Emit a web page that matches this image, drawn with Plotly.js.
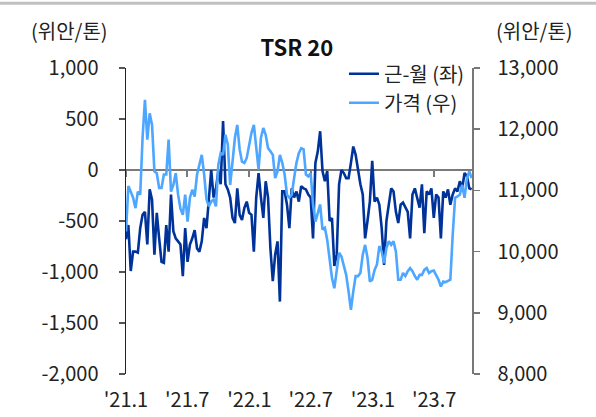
<!DOCTYPE html>
<html>
<head>
<meta charset="utf-8">
<script src="https://cdn.plot.ly/plotly-3.0.1.min.js"></script>
<style>
  html, body { margin: 0; padding: 0; background: #fff; }
  #chart { width: 596px; height: 417px; }
</style>
</head>
<body>
<div id="chart"></div>
<script>
// Weekly observations starting 2021-01-01
const startDate = '2021-01-01';

// 근-월 spread (left axis, 위안/톤)
const spread = [
  -680, -540, -990, -800, -800, -810, -570, -440, -410, -730,
  -190, -290, -830, -420, -670, -900, -910, -540, -800, -240,
  -600, -670, -700, -730, -1040, -570, -900, -730, -670, -590,
  -770, -800, -700, -470, -570, -310, 0, -270, -180, -10,
  -140, 480, -140, -190, -270, -470, -520, -180, -440, -490,
  -370, -310, -420, -440, -800, -270, -30, -270, -470, -110,
  -270, -770, -1090, -830, -700, -1290, -210, -210, -340, -570,
  -180, -270, -210, -310, -160, -180, -190, -240, -270, -670,
  70, 180, 380, -10, -110, -10, -500, -470, -940, -830,
  -140, 0, -30, -80, -80, 70, 230, 150, -10, -140,
  -240, -670, -500, -310, 90, -310, -270, -340, -570, -930,
  -500, -360, -180, -210, -410, -520, -340, -320, -360, -410,
  -670, -240, -180, -270, -370, -140, -620, -210, -240, -180,
  -470, -240, -270, -670, -210, -270, -190, -340, -240, -180,
  -210, -110, -180, -30, -60, -180, -190
];

// 가격 price (right axis, 위안/톤)
const price = [
  10330, 11070, 10980, 10880, 10710, 10980, 10930, 11860, 12480, 11830,
  12260, 12070, 11310, 11280, 11040, 11040, 11260, 11260, 11830, 10980,
  11090, 11280, 10930, 10700, 10600, 10930, 10490, 10880, 11010, 10900,
  11260, 11450, 11580, 11260, 10850, 10740, 10820, 10850, 10740, 11420,
  11610, 11580, 11910, 11750, 11090, 11470, 11860, 12070, 11670, 11470,
  11450, 11530, 11750, 11940, 12070, 11750, 11340, 11860, 12020, 11910,
  11690, 11640, 11580, 11200, 11310, 11580, 11450, 11260, 10930, 10880,
  10930, 11200, 11450, 11610, 11690, 11670, 11260, 11230, 11280, 10770,
  10490, 10630, 10770, 10360, 10390, 10190, 9840, 9570, 9400, 9700,
  9980, 9920, 9790, 9620, 9350, 9050, 9350, 9600, 9600, 9650,
  9950, 10110, 9900, 9510, 9540, 9700, 9790, 10090, 10000, 9810,
  10060, 10170, 10110, 10170, 10000, 9540, 9540, 9650, 9600, 9680,
  9730, 9680, 9600, 9540, 9620, 9620, 9700, 9730, 9650, 9680,
  9690, 9620, 9540, 9430, 9510, 9500, 9520, 9540, 10280, 10880,
  10900, 10930, 11090, 10880, 11200, 11310, 11200
];

const xTickVals = ['2021-01-01', '2021-07-01', '2022-01-01', '2022-07-01', '2023-01-01', '2023-07-01'];
const xTickText = ["'21.1", "'21.7", "'22.1", "'22.7", "'23.1", "'23.7"];
const yLeftVals = [-2000, -1500, -1000, -500, 0, 500, 1000];
const yLeftText = ['-2,000', '-1,500', '-1,000', '-500', '0', '500', '1,000'];
const yRightVals = [8000, 9000, 10000, 11000, 12000, 13000];
const yRightText = ['8,000', '9,000', '10,000', '11,000', '12,000', '13,000'];
const seriesNames = ['근-월 (좌)', '가격 (우)'];

// weekly date grid
const dates = [];
{
  const d0 = new Date(startDate + 'T00:00:00Z');
  for (let i = 0; i < spread.length; i++) {
    const d = new Date(d0.getTime() + i * 7 * 86400000);
    dates.push(d.toISOString().slice(0, 10));
  }
}

const FONT = '"Noto Sans CJK KR", "Noto Sans", sans-serif';
const FS = 20;
const xRange = ['2021-01-01', '2023-10-21'];

const traces = [
  {
    x: dates, y: spread, name: seriesNames[0], type: 'scatter', mode: 'lines',
    xaxis: 'x', yaxis: 'y',
    line: { color: '#003399', width: 2.6 }
  },
  {
    x: dates, y: price, name: seriesNames[1], type: 'scatter', mode: 'lines',
    xaxis: 'x', yaxis: 'y2',
    line: { color: '#4da6ff', width: 2.6 }
  },
  {
    x: [dates[0]], y: [0], xaxis: 'x2', yaxis: 'y', mode: 'lines',
    showlegend: false, hoverinfo: 'skip', line: { color: 'rgba(0,0,0,0)' }
  }
];

const layout = {
  width: 596, height: 417,
  margin: { l: 126, r: 124, t: 68, b: 43, pad: 0 },
  paper_bgcolor: '#ffffff', plot_bgcolor: '#ffffff',
  font: { family: FONT, size: FS, color: '#222222' },
  showlegend: true,
  title: {
    text: 'TSR 20',
    font: { family: FONT, size: 22, color: '#111111', weight: 'bold' },
    x: 0.498, xanchor: 'center', y: 0.885, yanchor: 'middle'
  },
  legend: {
    x: 0.63, y: 1.045, xanchor: 'left', yanchor: 'top',
    bgcolor: 'rgba(0,0,0,0)', borderwidth: 0,
    font: { family: FONT, size: FS, color: '#222222' },
    tracegroupgap: 0
  },
  xaxis: {
    type: 'date', range: xRange,
    tickvals: xTickVals, ticktext: xTickText,
    ticks: '', showline: false, showgrid: false, zeroline: false,
    tickfont: { family: FONT, size: FS, color: '#222222' },
    ticklabelstandoff: 12
  },
  xaxis2: {
    type: 'date', range: xRange, overlaying: 'x', anchor: 'free', position: 2 / 3,
    tickvals: xTickVals, showticklabels: false,
    ticks: 'outside', ticklen: 6, tickwidth: 2, tickcolor: '#7a7a7a',
    showline: true, linecolor: '#7a7a7a', linewidth: 2,
    showgrid: false, zeroline: false, layer: 'below traces'
  },
  yaxis: {
    range: [-2000, 1000], tickvals: yLeftVals, ticktext: yLeftText,
    showline: true, linecolor: '#222222', linewidth: 1.5,
    ticks: 'outside', ticklen: 6, tickwidth: 1.5, tickcolor: '#555555',
    showgrid: false, zeroline: false,
    tickfont: { family: FONT, size: FS, color: '#222222' },
    ticklabelstandoff: 16
  },
  yaxis2: {
    range: [8000, 13000], overlaying: 'y', side: 'right',
    tickvals: yRightVals, ticktext: yRightText,
    showline: true, linecolor: '#777777', linewidth: 1.5,
    ticks: 'outside', ticklen: 6, tickwidth: 1.5, tickcolor: '#777777',
    showgrid: false, zeroline: false,
    tickfont: { family: FONT, size: FS, color: '#222222' },
    ticklabelstandoff: 14
  },
  annotations: [
    { text: '(위안/톤)', xref: 'paper', yref: 'paper', x: -0.162, y: 1.124,
      xanchor: 'center', yanchor: 'middle', showarrow: false,
      font: { family: FONT, size: FS, color: '#222222' } },
    { text: '(위안/톤)', xref: 'paper', yref: 'paper', x: 1.182, y: 1.124,
      xanchor: 'center', yanchor: 'middle', showarrow: false,
      font: { family: FONT, size: FS, color: '#222222' } }
  ],
  shapes: [
    { type: 'line', xref: 'paper', yref: 'paper', x0: -0.37, x1: 1.37, y0: 1.212, y1: 1.212,
      line: { color: '#c0c0c0', width: 3 } }
  ]
};

Plotly.newPlot('chart', traces, layout, { displayModeBar: false, staticPlot: true });
</script>
</body>
</html>
